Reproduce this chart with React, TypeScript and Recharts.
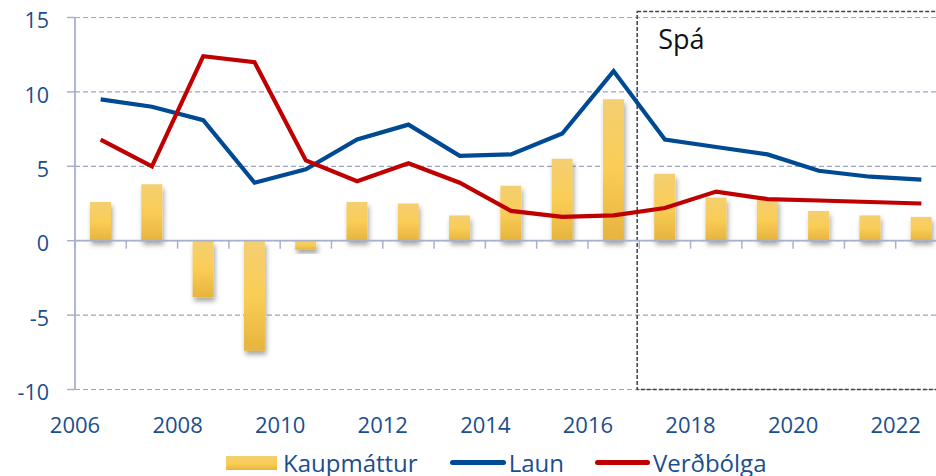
import React from 'react';
import {
  ComposedChart,
  Bar,
  Line,
  XAxis,
  YAxis,
  CartesianGrid,
  ReferenceLine,
  ReferenceArea,
  Legend,
} from 'recharts';

// Categories (one per year, drawn between tick marks)
const years = ['2007', '2008', '2009', '2010', '2011', '2012', '2013', '2014', '2015', '2016', '2017', '2018', '2019', '2020', '2021', '2022', '2023'];
// Series values (%)
const kaupmattur = [2.6, 3.8, -3.8, -7.4, -0.6, 2.6, 2.5, 1.7, 3.7, 5.5, 9.5, 4.5, 2.9, 2.8, 2.0, 1.7, 1.6];
const laun = [9.5, 9.0, 8.1, 3.9, 4.8, 6.8, 7.8, 5.7, 5.8, 7.2, 11.4, 6.8, 6.3, 5.8, 4.7, 4.3, 4.1];
const verdbolga = [6.8, 5.0, 12.4, 12.0, 5.4, 4.0, 5.2, 3.9, 2.0, 1.6, 1.7, 2.2, 3.3, 2.8, 2.7, 2.6, 2.5];
// Tick labels
const xTickLabels = ['2006', '2008', '2010', '2012', '2014', '2016', '2018', '2020', '2022'];
const yTicks = [-10, -5, 0, 5, 10, 15];
const forecastLabel = 'Spá';
const forecastStart = 10.96;

const seriesNames = { bar: 'Kaupmáttur', laun: 'Laun', verd: 'Verðbólga' };

const BLUE_TEXT = '#1A4E8E';
const AXIS = '#A9B0CB';
const GRID = '#9DA5C2';
const LAUN_COLOR = '#004A93';
const VERD_COLOR = '#C00000';
const FONT = '"Open Sans", sans-serif';

const data = years.map((y, i) => ({
  year: y,
  pos: i + 0.5,
  kaupmattur: kaupmattur[i],
  laun: laun[i],
  verdbolga: verdbolga[i],
}));

const xTickPositions = [...xTickLabels.map((_, i) => i * 2), years.length];

const ZeroAxis = (p: any) => {
  const { x1, x2, y1 } = p;
  const n = years.length;
  const step = (x2 - x1) / n;
  return (
    <g>
      <line x1={x1} x2={x2} y1={y1} y2={y1} stroke={AXIS} strokeWidth={1.8} />
      {Array.from({ length: n + 1 }, (_, i) => (
        <line key={i} x1={x1 + i * step} x2={x1 + i * step} y1={y1} y2={y1 + 8} stroke={AXIS} strokeWidth={1.5} />
      ))}
    </g>
  );
};

const LegendContent = () => (
  <div style={{ display: 'flex', alignItems: 'center', fontFamily: FONT, fontSize: 24, color: BLUE_TEXT, paddingLeft: 226, whiteSpace: 'nowrap' }}>
    <span style={{ display: 'inline-block', width: 51, height: 14, background: 'linear-gradient(#F4CF72, #FACD55 55%, #E8B53F)', marginRight: 6 }} />
    <span style={{ marginRight: 32 }}>{seriesNames.bar}</span>
    <span style={{ display: 'inline-block', width: 56, height: 5, borderRadius: 3, background: LAUN_COLOR, marginRight: 3 }} />
    <span style={{ marginRight: 31 }}>{seriesNames.laun}</span>
    <span style={{ display: 'inline-block', width: 55, height: 5, borderRadius: 3, background: VERD_COLOR, marginRight: 3 }} />
    <span>{seriesNames.verd}</span>
  </div>
);

export default function App() {
  return (
    <div style={{ position: 'fixed', left: 0, top: 0, width: 936, height: 476, overflow: 'hidden', background: '#fff' }}>
      <ComposedChart
        width={960}
        height={476}
        data={data}
        margin={{ top: 17.5, right: 13, left: 0, bottom: 36.5 }}
        barSize={21}
      >
        <defs>
          <linearGradient id="barGrad" x1="0" y1="0" x2="0" y2="1">
            <stop offset="0%" stopColor="#F4CF72" />
            <stop offset="50%" stopColor="#FACD55" />
            <stop offset="100%" stopColor="#E6B43E" />
          </linearGradient>
          <filter id="barShadow" x="-50%" y="-20%" width="200%" height="160%">
            <feDropShadow dx="1.5" dy="4" stdDeviation="2.5" floodColor="#000" floodOpacity="0.35" />
          </filter>
        </defs>
        <CartesianGrid horizontal vertical={false} stroke={GRID} strokeDasharray="5 3" strokeWidth={1.2} />
        <XAxis xAxisId="cat" dataKey="year" type="category" orientation="top" height={0} hide />
        <XAxis
          xAxisId="num"
          dataKey="pos"
          type="number"
          domain={[0, years.length]}
          allowDataOverflow
          ticks={xTickPositions}
          interval={0}
          tickFormatter={(v: number) => xTickLabels[v / 2] ?? ''}
          axisLine={false}
          tickLine={false}
          tickSize={0}
          tickMargin={28}
          height={50}
          tick={{ fontFamily: FONT, fontSize: 22, fill: BLUE_TEXT }}
        />
        <YAxis
          domain={[-10, 15]}
          ticks={yTicks}
          allowDataOverflow
          interval={0}
          width={75}
          axisLine={{ stroke: AXIS, strokeWidth: 1.8 }}
          tickLine={{ stroke: AXIS, strokeWidth: 1.5 }}
          tickSize={8}
          tickMargin={18}
          tick={{ fontFamily: FONT, fontSize: 21.5, fill: BLUE_TEXT, dy: 3 }}
        />
        <ReferenceArea
          xAxisId="num"
          x1={forecastStart}
          x2={years.length}
          y1={-10}
          y2={15.4}
          ifOverflow="visible"
          fill="none"
          fillOpacity={0}
          stroke="#404040"
          strokeWidth={1.5}
          strokeDasharray="4 2"
          label={(props: any) => (
            <text x={props.viewBox.x + 21} y={props.viewBox.y + 37} fontFamily={FONT} fontSize={27} fill="#111">
              {forecastLabel}
            </text>
          )}
        />
        <ReferenceLine xAxisId="num" y={0} shape={ZeroAxis} />
        <Bar
          xAxisId="cat"
          dataKey="kaupmattur"
          name={seriesNames.bar}
          fill="url(#barGrad)"
          filter="url(#barShadow)"
          isAnimationActive={false}
        />
        <Line
          xAxisId="cat"
          dataKey="laun"
          name={seriesNames.laun}
          type="linear"
          stroke={LAUN_COLOR}
          strokeWidth={4.2}
          dot={false}
          activeDot={false}
          isAnimationActive={false}
        />
        <Line
          xAxisId="cat"
          dataKey="verdbolga"
          name={seriesNames.verd}
          type="linear"
          stroke={VERD_COLOR}
          strokeWidth={4.2}
          dot={false}
          activeDot={false}
          isAnimationActive={false}
        />
        <Legend
          layout="horizontal"
          verticalAlign="middle"
          align="center"
          wrapperStyle={{ top: 446, left: 0, width: 936 }}
          content={LegendContent}
        />
      </ComposedChart>
    </div>
  );
}
